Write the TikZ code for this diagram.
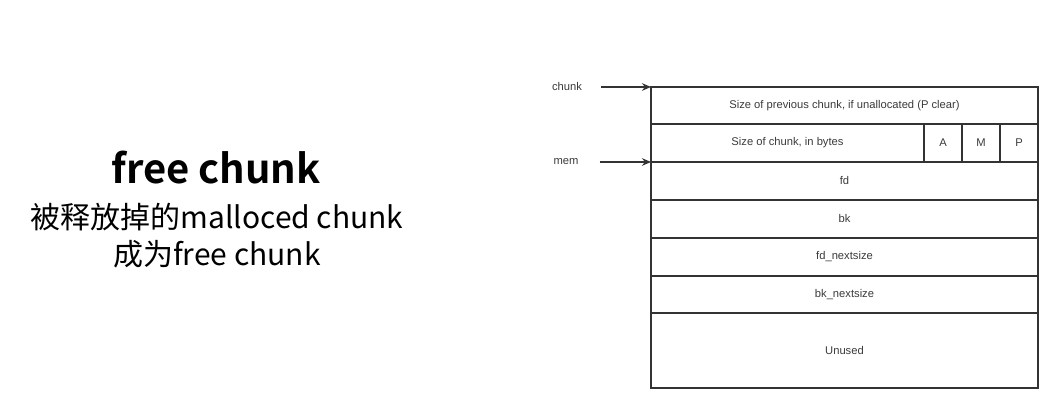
\documentclass[tikz,border=0pt]{standalone}
\usepackage{fontspec}
\setmainfont{Liberation Sans}
\newfontfamily\cjk{Noto Sans CJK SC}[BoldFont=* Bold]
\usetikzlibrary{arrows.meta}
\usetikzlibrary{positioning}

\definecolor{linegray}{HTML}{333333}
\definecolor{textgray}{HTML}{3A3A3A}

\begin{document}
\begin{tikzpicture}
  [
    x=0.5pt, y=-0.5pt,
    >={Stealth[length=4.5pt,width=3.8pt]},
    cell/.style  = {draw=linegray, line width=0.6pt, rectangle, inner sep=0pt, outer sep=0pt,
                    minimum width=193.5pt, minimum height=19pt,
                    text=textgray, font=\fontsize{5.6}{6.8}\selectfont},
    flag/.style  = {cell, minimum width=19pt},
    ptr/.style   = {text=textgray, font=\fontsize{5.6}{6.8}\selectfont},
    title/.style = {font=\cjk\bfseries\fontsize{20}{24}\selectfont},
    sub/.style   = {font=\cjk\fontsize{15}{18.5}\selectfont, align=center},
  ]

  \useasboundingbox (0,0) rectangle (1060,415);

  % left caption
  \node (head) at (216,168) [title] {free chunk};
  \node (desc) at (217,236) [sub] {被释放掉的malloced chunk\\成为free chunk};

  % the chunk layout
  \node (prev)   at (844.5,105.5) [cell, minimum height=18.5pt] {Size of previous chunk, if unallocated (P clear)};
  \node (size)   at (787.5,143)   [cell, minimum width=136.5pt] {Size of chunk, in bytes};
  \node (flagA)  at (943,143)     [flag] {A};
  \node (flagM)  at (981,143)     [flag] {M};
  \node (flagP)  at (1019,143)    [flag] {P};
  \node (fd)     at (844.5,181)   [cell] {fd};
  \node (bk)     at (844.5,219)   [cell] {bk};
  \node (fdnext) at (844.5,257)   [cell] {fd\_nextsize};
  \node (bknext) at (844.5,294.5) [cell, minimum height=18.5pt] {bk\_nextsize};
  \node (unused) at (844.5,350.5) [cell, minimum height=37.5pt] {Unused};

  % pointers
  \node (chunk) at (567,87)  [ptr] {chunk};
  \node (mem)   at (566,162) [ptr] {mem};

  \draw[->, linegray, line width=0.7pt] (chunk.east) ++(12,0) -- (prev.north west);
  \draw[->, linegray, line width=0.7pt] (mem.east) ++(14,0) -- (fd.north west);

\end{tikzpicture}
\end{document}
